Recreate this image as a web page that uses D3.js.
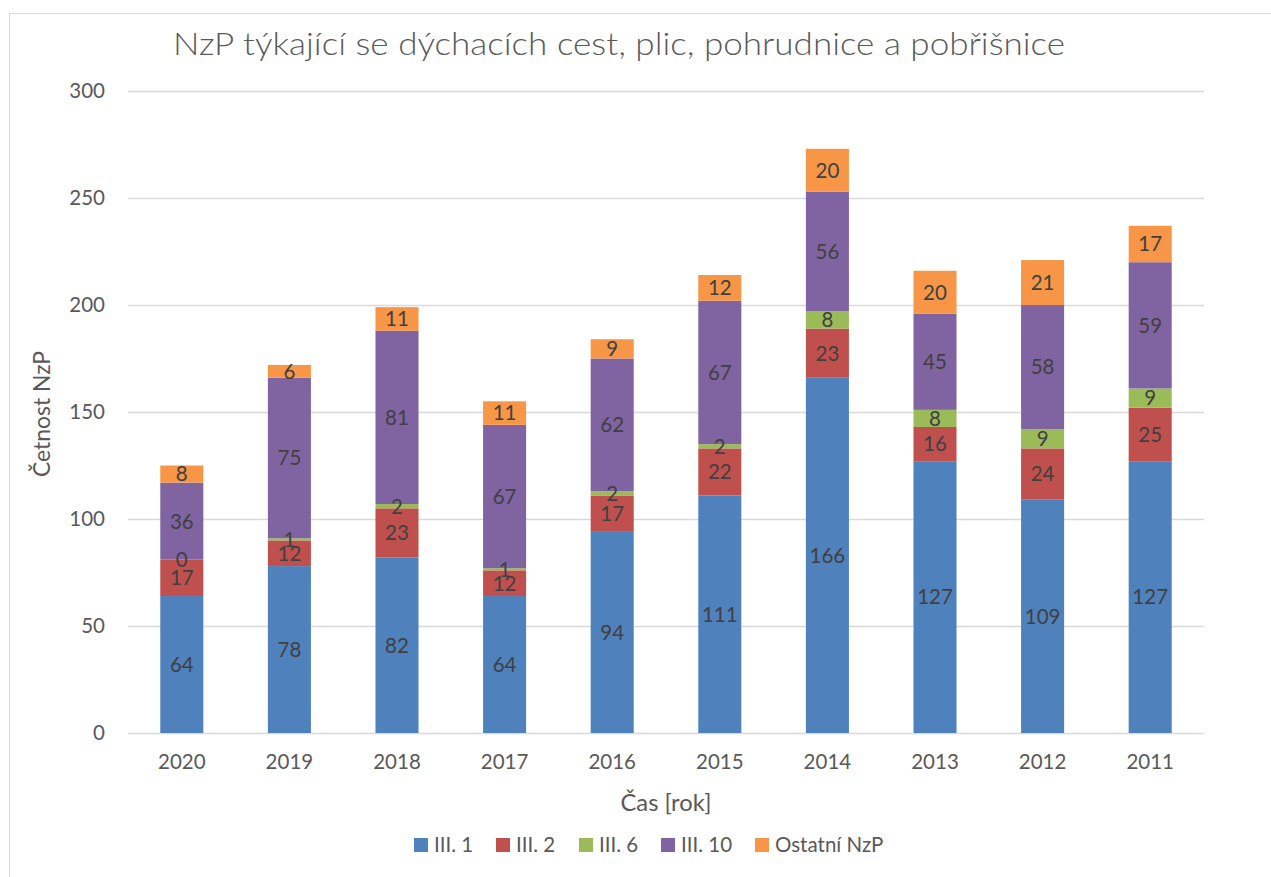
<!DOCTYPE html>
<html><head><meta charset="utf-8">
<script src="https://cdn.jsdelivr.net/npm/d3@7"></script>
<style>
body{margin:0;background:#fff;}
svg{display:block;font-family:Lato,"Open Sans",sans-serif;}
</style></head>
<body>
<svg id="c" width="1271" height="877"></svg>
<script>
const categories = ["2020","2019","2018","2017","2016","2015","2014","2013","2012","2011"];
const seriesNames = ["III. 1","III. 2","III. 6","III. 10","Ostatní NzP"];
const s1  = [64, 78, 82, 64, 94, 111, 166, 127, 109, 127];
const s2  = [17, 12, 23, 12, 17, 22, 23, 16, 24, 25];
const s6  = [0, 1, 2, 1, 2, 2, 8, 8, 9, 9];
const s10 = [36, 75, 81, 67, 62, 67, 56, 45, 58, 59];
const sOst= [8, 6, 11, 11, 9, 12, 20, 20, 21, 17];
const yTicks = [0,50,100,150,200,250,300];
const colors = ["#4f81bd","#c0504d","#9bbb59","#8064a2","#f79646"];

const seriesVals = [s1,s2,s6,s10,sOst];
const svg = d3.select("#c");
// outer border
svg.append("rect").attr("x",9.5).attr("y",13.5).attr("width",1300).attr("height",900)
  .attr("fill","none").attr("stroke","#d9d9d9");

const x = d3.scaleBand().domain(categories).range([128,1204]).paddingInner(0.6).paddingOuter(0.3);
const y = d3.scaleLinear().domain([0,300]).range([733,91]);

// gridlines
svg.append("g").selectAll("line").data(yTicks).join("line")
  .attr("x1",128).attr("x2",1204).attr("y1",d=>Math.round(y(d))+0.5).attr("y2",d=>Math.round(y(d))+0.5)
  .attr("stroke","#d9d9d9").attr("stroke-width",1.3);

// y axis labels
const yAxis = d3.axisLeft(y).tickValues(yTicks).tickSize(0).tickPadding(0);
const ya = svg.append("g").attr("transform","translate(105,0)").call(yAxis);
ya.select(".domain").remove();
ya.selectAll("text").attr("font-size",20.5).attr("fill","#595959").attr("font-family","Lato,sans-serif");

// x axis labels
const xAxis = d3.axisBottom(x).tickSize(0).tickPadding(0);
const xa = svg.append("g").attr("transform","translate(0,754)").call(xAxis);
xa.select(".domain").remove();
xa.selectAll("text").attr("font-size",20.5).attr("fill","#595959").attr("font-family","Lato,sans-serif");

// stack
const rows = categories.map((c,i)=>{const o={cat:c}; seriesNames.forEach((s,j)=>o[s]=seriesVals[j][i]); return o;});
const stack = d3.stack().keys(seriesNames)(rows);

const g = svg.append("g");
stack.forEach((layer,li)=>{
  g.append("g").attr("fill",colors[li]).selectAll("rect").data(layer).join("rect")
    .attr("x",d=>x(d.data.cat)).attr("width",x.bandwidth())
    .attr("y",d=>y(d[1])).attr("height",d=>y(d[0])-y(d[1]));
});
stack.forEach((layer,li)=>{
  g.append("g").selectAll("text").data(layer).join("text")
    .attr("x",d=>x(d.data.cat)+x.bandwidth()/2)
    .attr("y",d=>y((d[0]+d[1])/2))
    .attr("dy","0.36em").attr("text-anchor","middle")
    .attr("font-size",20.5).attr("fill","#404040")
    .text(d=>d.data[seriesNames[li]]);
});

// title
svg.append("text").attr("x",619).attr("y",55).attr("text-anchor","middle")
  .attr("font-size",31).attr("font-weight",300).attr("fill","#595959").attr("textLength",892).attr("lengthAdjust","spacingAndGlyphs")
  .text("NzP týkající se dýchacích cest, plic, pohrudnice a pobřišnice");

// axis titles
svg.append("text").attr("transform","translate(50,414) rotate(-90)").attr("text-anchor","middle")
  .attr("font-size",24).attr("fill","#595959").attr("textLength",126).attr("lengthAdjust","spacingAndGlyphs").text("Četnost NzP");
svg.append("text").attr("x",666).attr("y",811).attr("text-anchor","middle")
  .attr("font-size",23).attr("fill","#595959").attr("textLength",91).attr("lengthAdjust","spacingAndGlyphs").text("Čas [rok]");

// legend
const legX = [414,496,579,661,755];
const leg = svg.append("g");
seriesNames.forEach((s,i)=>{
  leg.append("rect").attr("x",legX[i]).attr("y",838).attr("width",14).attr("height",14).attr("fill",colors[i]);
  leg.append("text").attr("x",legX[i]+20).attr("y",845).attr("dy","0.36em")
    .attr("font-size",20.5).attr("fill","#595959").text(s);
});
</script>
</body></html>
